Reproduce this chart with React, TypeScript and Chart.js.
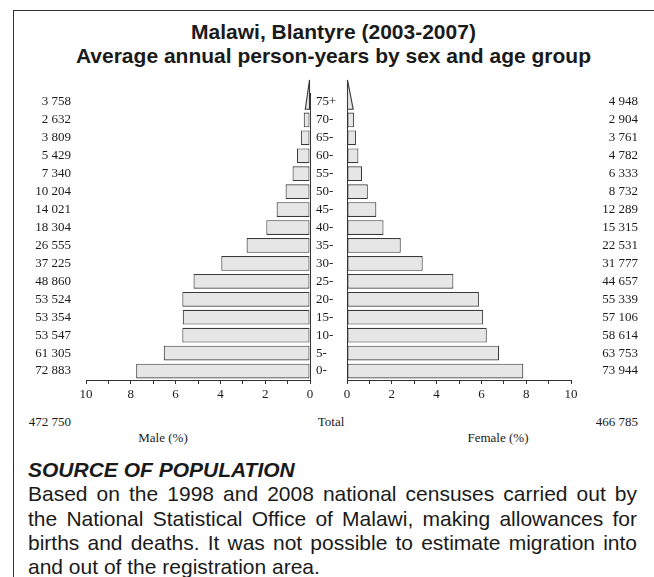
import React, { useEffect, useRef } from "react";
import { Chart, registerables } from "chart.js";

Chart.register(...registerables);

// ---------- data ----------
const ageGroups = ["0-", "5-", "10-", "15-", "20-", "25-", "30-", "35-", "40-", "45-", "50-", "55-", "60-", "65-", "70-", "75+"];
const maleCounts = [72883, 61305, 53547, 53354, 53524, 48860, 37225, 26555, 18304, 14021, 10204, 7340, 5429, 3809, 2632, 3758];
const femaleCounts = [73944, 63753, 58614, 57106, 55339, 44657, 31777, 22531, 15315, 12289, 8732, 6333, 4782, 3761, 2904, 4948];
const malePct = [7.76, 6.53, 5.70, 5.68, 5.70, 5.20, 3.96, 2.83, 1.95, 1.49, 1.09, 0.78, 0.58, 0.41, 0.28, 0.40];
const femalePct = [7.87, 6.79, 6.24, 6.08, 5.89, 4.75, 3.38, 2.40, 1.63, 1.31, 0.93, 0.67, 0.51, 0.40, 0.31, 0.53];
const maleTotal = 472750;
const femaleTotal = 466785;
const axisMin = 0;
const axisMax = 10;

const titleLines = ["Malawi, Blantyre (2003-2007)", "Average annual person-years by sex and age group"];
const maleAxisLabel = "Male (%)";
const femaleAxisLabel = "Female (%)";
const totalLabel = "Total";
const sourceHeading = "SOURCE OF POPULATION";
const sourceLines = [
  "Based on the 1998 and 2008 national censuses carried out by",
  "the National Statistical Office of Malawi, making allowances for",
  "births and deaths. It was not possible to estimate migration into",
  "and out of the registration area.",
];

// ---------- styles ----------
const SANS = '"Liberation Sans", Arial, Helvetica, sans-serif';
const SERIF = '"Liberation Serif", "Times New Roman", Times, serif';
const TEXT = "#1a1a1a";
const AXIS = "#333333";
const BAR_FILL = "#e6e6e6";
const BAR_STROKE = "#3a3a3a";

function fmt(n: number): string {
  return String(n).replace(/\B(?=(\d{3})+(?!\d))/g, " ");
}

const wedgePlugin = {
  id: "openAgeWedge",
  afterDatasetsDraw(chart: any) {
    const meta = chart.getDatasetMeta(0);
    const idx = ageGroups.length - 1;
    const bar = meta.data[idx];
    if (!bar) return;
    const { x, y, base, height } = bar.getProps(["x", "y", "base", "height"], true);
    const bottom = y + height / 2;
    const top = bottom - 2 * height;
    const tipX = base + (x - base) / 2;
    const ctx = chart.ctx;
    ctx.save();
    ctx.beginPath();
    ctx.moveTo(base, top);
    ctx.lineTo(base, bottom);
    ctx.lineTo(tipX, bottom);
    ctx.closePath();
    ctx.fillStyle = BAR_FILL;
    ctx.fill();
    ctx.lineWidth = 1.1;
    ctx.strokeStyle = BAR_STROKE;
    ctx.stroke();
    ctx.restore();
  },
};

function makeConfig(values: number[], counts: number[], isMale: boolean): any {
  const last = ageGroups.length - 1;
  const tickFont = { family: SERIF, size: 13 };
  const scales: any = {
    x: {
      type: "linear",
      min: axisMin,
      max: axisMax,
      reverse: isMale,
      position: "bottom",
      ticks: {
        stepSize: 1,
        autoSkip: false,
        maxRotation: 0,
        padding: 3,
        color: TEXT,
        font: tickFont,
        callback: (v: any) => (Number(v) % 2 === 0 ? String(v) : ""),
      },
      grid: {
        display: true,
        drawOnChartArea: false,
        drawTicks: true,
        tickLength: 4,
        tickColor: AXIS,
        color: AXIS,
        lineWidth: 1,
      },
      border: { display: true, color: AXIS, width: 1 },
      afterFit: (s: any) => {
        s.height = 30;
      },
    },
    y: {
      type: "category",
      reverse: true,
      offset: true,
      position: isMale ? "left" : "right",
      ticks: {
        color: TEXT,
        font: tickFont,
        padding: isMale ? 15 : 0,
        crossAlign: isMale ? "near" : "far",
        autoSkip: false,
        callback: (v: any) => fmt(counts[Number(v)]),
      },
      grid: { display: false, drawTicks: false },
      border: { display: false },
      afterFit: (s: any) => {
        s.width = isMale ? 66 : 67;
      },
    },
  };
  if (isMale) {
    scales.ya = {
      type: "category",
      reverse: true,
      offset: true,
      position: "right",
      ticks: { color: TEXT, font: tickFont, padding: 6, autoSkip: false },
      grid: { display: false, drawTicks: false },
      border: { display: true, color: AXIS, width: 1 },
      afterFit: (s: any) => {
        s.width = 35;
      },
    };
  } else {
    scales.yl = {
      type: "category",
      reverse: true,
      offset: true,
      position: "left",
      ticks: { display: false },
      grid: { display: false, drawTicks: false },
      border: { display: true, color: AXIS, width: 1 },
      afterFit: (s: any) => {
        s.width = 0;
      },
    };
  }
  return {
    type: "bar",
    data: {
      labels: ageGroups,
      datasets: [
        {
          data: values,
          xAxisID: "x",
          yAxisID: "y",
          backgroundColor: (c: any) => (c.dataIndex === last ? "rgba(0,0,0,0)" : BAR_FILL),
          borderColor: (c: any) => (c.dataIndex === last ? "rgba(0,0,0,0)" : BAR_STROKE),
          borderWidth: 1.1,
          borderSkipped: false,
          barPercentage: 0.82,
          categoryPercentage: 1,
        },
      ],
    },
    options: {
      indexAxis: "y",
      animation: false,
      responsive: false,
      maintainAspectRatio: false,
      devicePixelRatio: 1,
      events: [],
      layout: {
        padding: isMale
          ? { left: 0, right: 0, top: 23, bottom: 0 }
          : { left: 7, right: 2, top: 23, bottom: 0 },
      },
      plugins: {
        legend: { display: false },
        tooltip: { enabled: false },
        title: { display: false },
      },
      scales,
    },
    plugins: [wedgePlugin],
  };
}

const abs = (o: React.CSSProperties): React.CSSProperties => ({ position: "absolute", whiteSpace: "nowrap", ...o });

export default function App() {
  const maleRef = useRef<HTMLCanvasElement | null>(null);
  const femaleRef = useRef<HTMLCanvasElement | null>(null);

  useEffect(() => {
    const charts: Chart[] = [];
    if (maleRef.current) charts.push(new Chart(maleRef.current, makeConfig(malePct, maleCounts, true)));
    if (femaleRef.current) charts.push(new Chart(femaleRef.current, makeConfig(femalePct, femaleCounts, false)));
    return () => charts.forEach((c) => c.destroy());
  }, []);

  const serifText: React.CSSProperties = { fontFamily: SERIF, fontSize: 13, lineHeight: "16px", color: TEXT };

  return (
    <div
      style={{
        position: "absolute",
        left: 0,
        top: 0,
        width: 654,
        height: 577,
        overflow: "hidden",
        background: "#ffffff",
      }}
    >
      <div
        style={{
          position: "absolute",
          left: 13,
          top: 10,
          width: 700,
          height: 700,
          borderTop: "1.5px solid #333",
          borderLeft: "1.5px solid #333",
        }}
      />
      <div
        style={{
          position: "absolute",
          left: 13,
          top: 20,
          width: 641,
          textAlign: "center",
          fontFamily: SANS,
          fontWeight: "bold",
          fontSize: 21,
          lineHeight: "24px",
          color: TEXT,
        }}
      >
        {titleLines.map((t) => (
          <div key={t}>{t}</div>
        ))}
      </div>

      <canvas ref={maleRef} width={325} height={340} style={{ position: "absolute", left: 20, top: 70, width: 325, height: 340 }} />
      <canvas ref={femaleRef} width={300} height={340} style={{ position: "absolute", left: 340, top: 70, width: 300, height: 340 }} />

      <div style={abs({ ...serifText, right: 654 - 71, top: 414 })}>{fmt(maleTotal)}</div>
      <div style={abs({ ...serifText, left: 331 - 50, width: 100, textAlign: "center", top: 414 })}>{totalLabel}</div>
      <div style={abs({ ...serifText, right: 654 - 638, top: 414 })}>{fmt(femaleTotal)}</div>
      <div style={abs({ ...serifText, left: 163 - 60, width: 120, textAlign: "center", top: 430 })}>{maleAxisLabel}</div>
      <div style={abs({ ...serifText, left: 498 - 60, width: 120, textAlign: "center", top: 430 })}>{femaleAxisLabel}</div>

      <div
        style={{
          position: "absolute",
          left: 28,
          top: 458,
          width: 609,
          fontFamily: SANS,
          fontSize: 21,
          lineHeight: "24.25px",
          color: TEXT,
        }}
      >
        <div style={{ fontWeight: "bold", fontStyle: "italic", whiteSpace: "nowrap" }}>{sourceHeading}</div>
        {sourceLines.map((l, i) => (
          <div
            key={i}
            style={{
              whiteSpace: "nowrap",
              textAlign: i < sourceLines.length - 1 ? "justify" : "left",
              textAlignLast: i < sourceLines.length - 1 ? "justify" : "left",
              ...(i < sourceLines.length - 1 ? { whiteSpace: "normal" } : {}),
            }}
          >
            {l}
          </div>
        ))}
      </div>
    </div>
  );
}
